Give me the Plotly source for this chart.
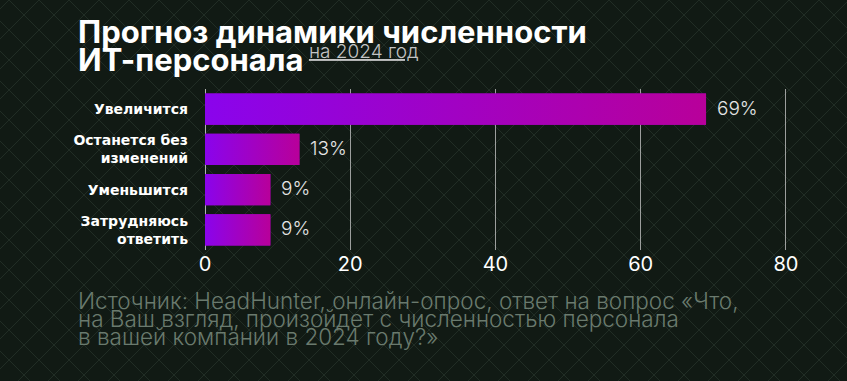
import plotly.graph_objects as go

categories = ["Увеличится", "Останется без<br>изменений", "Уменьшится", "Затрудняюсь<br>ответить"]
values = [69, 13, 9, 9]
value_labels = ["69%", "13%", "9%", "9%"]
tick_vals = [0, 20, 40, 60, 80]

W, H = 847, 381
L, R, T, B = 205, 60, 89, 131
pw, ph = W - L - R, H - T - B
BAR_W = 0.78
idx = list(range(len(categories)))

fig = go.Figure()
fig.add_trace(go.Bar(
    x=values, y=idx, orientation="h", width=BAR_W,
    marker=dict(color="#a000c8", line=dict(width=0)),
    hoverinfo="skip",
))
# gradient overlay on each bar (same data, gradient fill)
for i, v in zip(idx, values):
    h = BAR_W / 2
    fig.add_trace(go.Scatter(
        x=[0, v, v, 0, 0], y=[i - h, i - h, i + h, i + h, i - h],
        mode="lines", line=dict(width=0), fill="toself",
        fillgradient=dict(type="horizontal", colorscale=[[0, "#8a04ec"], [1, "#b8009a"]]),
        hoverinfo="skip",
    ))

def px2paper(px, py):
    return (px - L) / pw, (H - B - py) / ph

# decorative diagonal background pattern
shapes = []
step = 30
for c in range(-H, W + H, step):
    for d in (H, -H):
        x0, y0 = px2paper(c, 0)
        x1, y1 = px2paper(c + d, H)
        shapes.append(dict(type="line", xref="paper", yref="paper", x0=x0, y0=y0, x1=x1, y1=y1,
                           line=dict(color="rgba(120,150,130,0.16)", width=1), layer="below"))

annotations = []
for i, (v, lab) in enumerate(zip(values, value_labels)):
    annotations.append(dict(text=lab, x=v, y=i, xref="x", yref="y", xanchor="left", yanchor="middle",
                            xshift=9, yshift=1, showarrow=False,
                            font=dict(family="Inter", size=19, color="#e6e6e6", weight=300)))

title_lines = ["Прогноз динамики численности", "ИТ-персонала"]
for k, line in enumerate(title_lines):
    annotations.append(dict(text="<b>" + line + "</b>", xref="paper", yref="paper",
                            x=px2paper(76, 0)[0], y=px2paper(0, 31 + 28 * k)[1],
                            xanchor="left", yanchor="middle", showarrow=False,
                            font=dict(family="Inter", size=31, color="#ffffff")))
annotations.append(dict(text="<u>на 2024 год</u>", xref="paper", yref="paper",
                        x=px2paper(307, 0)[0], y=px2paper(0, 52)[1], xanchor="left", yanchor="middle",
                        showarrow=False, font=dict(family="Inter", size=19, color="#c4c4c4", weight=300)))

source_lines = ["Источник: HeadHunter, онлайн-опрос, ответ на вопрос «Что,",
                "на Ваш взгляд, произойдет с численностью персонала",
                "в вашей компании в 2024 году?»"]
for k, line in enumerate(source_lines):
    annotations.append(dict(text=line, xref="paper", yref="paper",
                            x=px2paper(76, 0)[0], y=px2paper(0, 300 + 18 * k)[1],
                            xanchor="left", yanchor="middle", showarrow=False,
                            font=dict(family="Inter", size=22.5, color="#6a7a6e", weight=300)))

fig.update_layout(
    width=W, height=H,
    margin=dict(l=L, r=R, t=T, b=B),
    paper_bgcolor="#111a14", plot_bgcolor="rgba(0,0,0,0)",
    showlegend=False,
    shapes=shapes, annotations=annotations,
    xaxis=dict(range=[0, 80.15], tickvals=tick_vals, showgrid=True, gridcolor="rgba(215,215,215,0.7)",
               gridwidth=1, zeroline=True, zerolinecolor="rgba(215,215,215,0.8)", zerolinewidth=1,
               tickfont=dict(family="Inter", size=20, color="#ffffff"), ticks="", showline=False,
               fixedrange=True),
    yaxis=dict(range=[3.5, -0.5], tickvals=idx, ticktext=categories,
               tickfont=dict(family="DejaVu Sans", size=14, color="#ffffff", weight="bold"),
               ticks="", showgrid=False, zeroline=False, ticklabelstandoff=16, fixedrange=True),
)

fig.write_html("out.html", config={"displayModeBar": False},
               post_script="document.body.style.margin='0';document.body.style.overflow='hidden';document.body.style.background='#111a14';")
